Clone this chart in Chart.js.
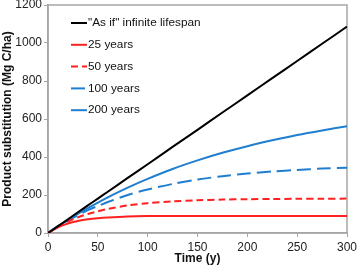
<!DOCTYPE html>
<html>
<head>
<meta charset="utf-8">
<script src="https://cdn.jsdelivr.net/npm/chart.js@4.4.0/dist/chart.umd.min.js"></script>
<style>
  html, body { margin: 0; padding: 0; background: #fff; }
  #wrap { width: 357px; height: 268px; }
</style>
</head>
<body>
<div id="wrap"><canvas id="chart" width="357" height="268"></canvas></div>
<script>
const years = [0, 10, 20, 30, 40, 50, 60, 80, 100, 125, 150, 175, 200, 225, 250, 275, 300];

// Product substitution (Mg C/ha)
const infinite = [0, 36, 72, 109, 145, 181, 217, 290, 362, 453, 543, 634, 724, 815, 905, 996, 1086];
const life25  = [0, 30, 50, 63, 72, 78, 82, 87, 89, 90, 90, 90, 90, 90, 90, 90, 90];
const life50  = [0, 33, 60, 82, 100, 114, 127, 145, 157, 166, 172, 176, 178, 179, 180, 180, 181];
const life100 = [0, 35, 66, 94, 120, 142, 163, 200, 229, 258, 281, 299, 313, 324, 332, 339, 344];
const life200 = [0, 35, 69, 101, 131, 160, 188, 239, 285, 337, 382, 422, 457, 488, 516, 540, 562];

const seriesLabels = ['"As if" infinite lifespan', '25 years', '50 years', '100 years', '200 years'];
const xTicks = [0, 50, 100, 150, 200, 250, 300];
const yTicks = [0, 200, 400, 600, 800, 1000, 1200];

const RED = '#ff2020';
const BLUE = '#1f7ed0';
const AXIS = '#a6a6a6';

function toPoints(values) {
    return years.map((t, i) => ({ x: t, y: values[i] }));
}

function lineSet(label, values, color, dash) {
    return {
        label: label,
        data: toPoints(values),
        borderColor: color,
        backgroundColor: color,
        borderWidth: 2,
        borderDash: dash,
        pointRadius: 0,
        tension: 0.3,
        fill: false
    };
}

// Box around the plot area and a legend drawn inside it
const plotFrame = {
    id: 'plotFrame',
    beforeDatasetsDraw(chart) {
        const a = chart.chartArea;
        const ctx = chart.ctx;
        ctx.save();
        ctx.strokeStyle = AXIS;
        ctx.lineWidth = 1.5;
        ctx.strokeRect(a.left, a.top, a.right - a.left, a.bottom - a.top);
        ctx.restore();
    },
    afterDatasetsDraw(chart) {
        const ctx = chart.ctx;
        const x0 = 71, x1 = 87;
        ctx.save();
        ctx.font = '11.8px "Liberation Sans", Arial, sans-serif';
        ctx.textBaseline = 'middle';
        chart.data.datasets.forEach((ds, i) => {
            const y = 23 + i * 21.8;
            ctx.strokeStyle = ds.borderColor;
            ctx.lineWidth = 2;
            ctx.setLineDash(ds.borderDash || []);
            ctx.beginPath();
            ctx.moveTo(x0, y);
            ctx.lineTo(x1, y);
            ctx.stroke();
            ctx.setLineDash([]);
            ctx.fillStyle = '#111';
            ctx.fillText(ds.label, x1 + 1, y);
        });
        ctx.restore();
    }
};

const tickFont = { family: '"Liberation Sans", Arial, sans-serif', size: 12 };
const titleFont = { family: '"Liberation Sans", Arial, sans-serif', size: 12, weight: 'bold' };
const plain = v => String(v);

new Chart(document.getElementById('chart'), {
    type: 'line',
    data: {
        datasets: [
            lineSet(seriesLabels[0], infinite, '#000000', []),
            lineSet(seriesLabels[1], life25, RED, []),
            lineSet(seriesLabels[2], life50, RED, [7, 4]),
            lineSet(seriesLabels[3], life100, BLUE, [14, 6]),
            lineSet(seriesLabels[4], life200, BLUE, [])
        ]
    },
    options: {
        responsive: false,
        animation: false,
        layout: { padding: { top: 5, right: 10, left: 0, bottom: 0 } },
        plugins: {
            legend: { display: false },
            tooltip: { enabled: false }
        },
        scales: {
            x: {
                type: 'linear',
                min: 0,
                max: 300,
                afterBuildTicks(scale) { scale.ticks = xTicks.map(v => ({ value: v })); },
                afterFit(scale) {
                    scale.height = 35;
                    scale.paddingLeft = 0;
                    scale.paddingRight = 0;
                },
                grid: { display: true, drawOnChartArea: false, drawTicks: true, tickLength: 4, color: AXIS },
                border: { display: true, color: AXIS, width: 1.5 },
                ticks: { font: tickFont, color: '#222', padding: 3, maxRotation: 0, callback: plain },
                title: { display: true, text: 'Time (y)', font: titleFont, color: '#111', padding: { top: 0, bottom: 2 } }
            },
            y: {
                type: 'linear',
                min: 0,
                max: 1200,
                afterBuildTicks(scale) { scale.ticks = yTicks.map(v => ({ value: v })); },
                afterFit(scale) {
                    scale.width = 48;
                    scale.paddingTop = 0;
                    scale.paddingBottom = 0;
                },
                grid: { display: true, drawOnChartArea: false, drawTicks: true, tickLength: 4, color: AXIS },
                border: { display: true, color: AXIS, width: 1.5 },
                ticks: { font: tickFont, color: '#222', padding: 2, callback: plain },
                title: { display: true, text: 'Product substitution (Mg C/ha)', font: titleFont, color: '#111', padding: { top: 0, bottom: 0 } }
            }
        }
    },
    plugins: [plotFrame]
});
</script>
</body>
</html>
